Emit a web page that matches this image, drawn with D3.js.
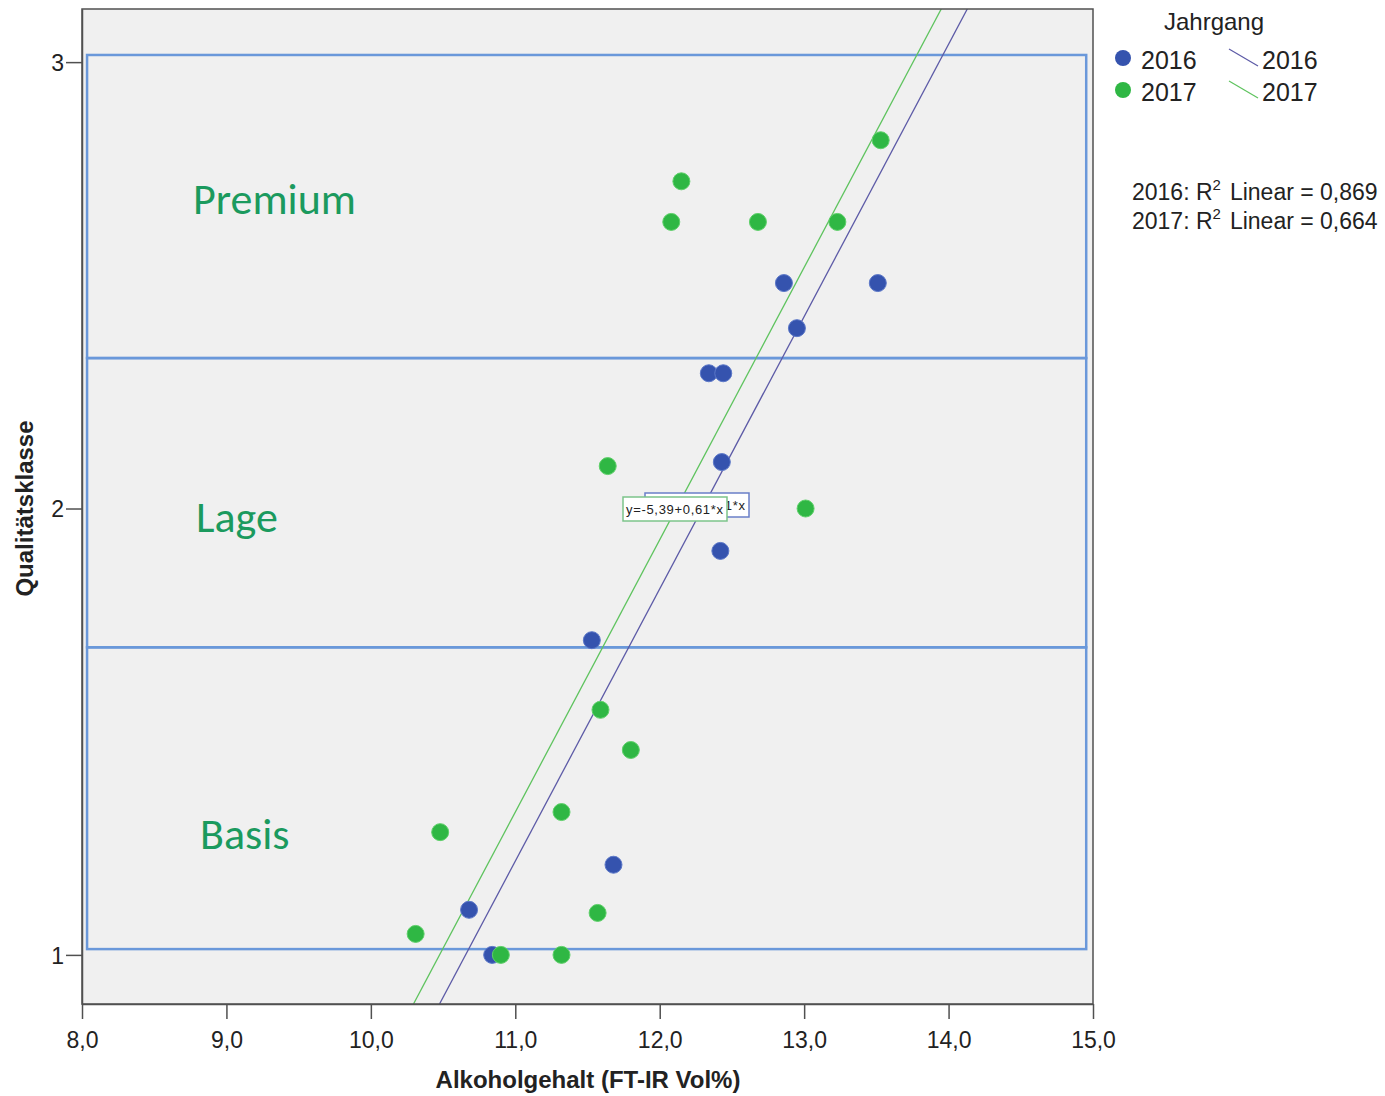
<!DOCTYPE html>
<html>
<head>
<meta charset="utf-8">
<script src="https://cdn.jsdelivr.net/npm/d3@7"></script>
<style>
body { margin: 0; background: #fff; }
text { font-family: "Liberation Sans", Arial, sans-serif; }
</style>
</head>
<body>
<div id="chart"></div>
<script>
// data
var years = ["2016", "2017"];
var alc2016 = [12.86, 13.51, 12.95, 12.34, 12.44, 12.43, 12.42, 11.53, 11.68, 10.68, 10.84];
var qual2016 = [2.505, 2.505, 2.404, 2.303, 2.303, 2.104, 1.905, 1.705, 1.202, 1.101, 1.0];
var alc2017 = [13.53, 12.15, 12.08, 12.68, 13.23, 11.64, 13.01, 11.59, 11.80, 11.32, 10.48, 11.57, 10.31, 10.90, 11.32];
var qual2017 = [2.825, 2.733, 2.642, 2.642, 2.642, 2.095, 2.0, 1.549, 1.459, 1.32, 1.275, 1.094, 1.047, 1.0, 1.0];
var intercepts = [-5.50, -5.39];
var slopes = [0.61, 0.61];
var r2 = ["0,869", "0,664"];
var bandNames = ["Premium", "Lage", "Basis"];
var bandLow = [2.337, 1.689, 1.013];
var bandHigh = [3.016, 2.337, 1.689];
var xTicks = [8, 9, 10, 11, 12, 13, 14, 15];
var yTicks = [1, 2, 3];

var pointColor = ["#3553ae", "#2fb744"];
var lineColor = ["#5c5aa6", "#5ec35e"];

var W = 1385, H = 1096;
var margin = {top: 9, left: 82, right: 292, bottom: 92};
var width = W - margin.left - margin.right;
var height = H - margin.top - margin.bottom;

var svg = d3.select("#chart").append("svg")
  .attr("width", W).attr("height", H);

var x = d3.scaleLinear().domain([8, 15]).range([0, width]);
var y = d3.scaleLinear().domain([0.89, 3.119]).range([height, 0]);

var g = svg.append("g").attr("transform", "translate(" + margin.left + "," + margin.top + ")");

g.append("rect").attr("width", width).attr("height", height).attr("fill", "#f0f0f0");

g.append("defs").append("clipPath").attr("id", "clip")
  .append("rect").attr("width", width).attr("height", height);

// quality bands
g.append("g").selectAll("rect")
  .data(bandNames)
  .enter().append("rect")
  .attr("x", x(8.035))
  .attr("width", x(14.953) - x(8.035))
  .attr("y", function(d, i) { return y(bandHigh[i]); })
  .attr("height", function(d, i) { return y(bandLow[i]) - y(bandHigh[i]); })
  .attr("fill", "none")
  .attr("stroke", "#6a98da")
  .attr("stroke-width", 2.5);

var bandLabelX = [111, 114, 118];
var bandLabelY = [214, 532, 849];
g.append("g").selectAll("text")
  .data(bandNames)
  .enter().append("text")
  .attr("x", function(d, i) { return bandLabelX[i]; })
  .attr("y", function(d, i) { return bandLabelY[i] - margin.top; })
  .text(function(d) { return d; })
  .style("font-family", "Carlito, Lato, 'Open Sans', sans-serif")
  .style("font-size", "44px")
  .attr("fill", "#1b9a5e");

// regression lines
var lines = g.append("g").attr("clip-path", "url(#clip)");
years.forEach(function(yr, i) {
  var y0 = y.domain()[0], y1 = y.domain()[1];
  lines.append("line")
    .attr("x1", x((y0 - intercepts[i]) / slopes[i]))
    .attr("y1", y(y0))
    .attr("x2", x((y1 - intercepts[i]) / slopes[i]))
    .attr("y2", y(y1))
    .attr("stroke", lineColor[i])
    .attr("stroke-width", 1.3);
});

// points
var series = [[alc2016, qual2016], [alc2017, qual2017]];
series.forEach(function(s, i) {
  g.append("g").selectAll("circle")
    .data(s[0])
    .enter().append("circle")
    .attr("cx", function(d) { return x(d); })
    .attr("cy", function(d, j) { return y(s[1][j]); })
    .attr("r", 8.5)
    .attr("fill", pointColor[i])
    .attr("stroke", i == 0 ? "#5c78c8" : "#5fd06a")
    .attr("stroke-width", 1);
});

// equation labels (2017 box sits on top of the 2016 one, as in the original)
var eqOffset = [[22, -4], [0, 0]];
var eqColor = ["#6a7fc8", "#7cc48a"];
var numFmt = function(v) { return d3.format(".2f")(v).replace(".", ",").replace("\u2212", "-"); };
[0, 1].forEach(function(i) {
  var lx = 541 + eqOffset[i][0], ly = 488 + eqOffset[i][1];
  var lab = g.append("g").attr("transform", "translate(" + lx + "," + ly + ")");
  lab.append("rect").attr("width", 104).attr("height", 24)
    .attr("fill", "#fff").attr("stroke", eqColor[i]).attr("stroke-width", 1.5);
  lab.append("text").attr("x", 3).attr("y", 17)
    .text("y=" + numFmt(intercepts[i]) + "+" + numFmt(slopes[i]) + "*x")
    .style("font-size", "13px").attr("fill", "#222").attr("textLength", 97);
});

// frame
g.append("rect").attr("width", width).attr("height", height)
  .attr("fill", "none").attr("stroke", "#505050").attr("stroke-width", 1.5);

// axes
var xAxis = g.append("g").attr("transform", "translate(0," + height + ")")
  .call(d3.axisBottom(x).tickValues(xTicks).tickSize(15).tickSizeOuter(0)
    .tickFormat(function(d) { return d3.format(".1f")(d).replace(".", ","); }));
xAxis.select(".domain").attr("stroke", "#505050").attr("stroke-width", 1.5);
xAxis.selectAll(".tick line").attr("stroke", "#505050").attr("stroke-width", 1.5);
xAxis.selectAll(".tick text").attr("dy", 0).attr("y", 44).style("font-size", "23px").attr("fill", "#222");

var yAxis = g.append("g")
  .call(d3.axisLeft(y).tickValues(yTicks).tickSize(16).tickSizeOuter(0).tickFormat(d3.format("d")));
yAxis.select(".domain").attr("stroke", "#505050").attr("stroke-width", 1.5);
yAxis.selectAll(".tick line").attr("stroke", "#505050").attr("stroke-width", 1.5);
yAxis.selectAll(".tick text").attr("x", -18).attr("dy", "0.36em").style("font-size", "23px").attr("fill", "#222");

svg.append("text")
  .attr("x", 588).attr("y", 1088)
  .attr("text-anchor", "middle")
  .style("font-size", "24px").style("font-weight", "bold").attr("fill", "#222")
  .text("Alkoholgehalt (FT-IR Vol%)");

svg.append("text")
  .attr("transform", "translate(33," + (margin.top + y(2)) + ")rotate(-90)")
  .attr("text-anchor", "middle")
  .style("font-size", "24px").style("font-weight", "bold").attr("fill", "#222")
  .text("Qualitätsklasse");

// legend
var legend = svg.append("g");
legend.append("text").attr("x", 1214).attr("y", 30).attr("text-anchor", "middle")
  .style("font-size", "24px").attr("fill", "#222").text("Jahrgang");
years.forEach(function(yr, i) {
  var ry = 58 + i * 32;
  legend.append("circle").attr("cx", 1123).attr("cy", ry).attr("r", 8)
    .attr("fill", pointColor[i]);
  legend.append("text").attr("x", 1141).attr("y", ry + 11)
    .style("font-size", "25px").attr("fill", "#222").text(yr);
  legend.append("line").attr("x1", 1229).attr("y1", ry - 9).attr("x2", 1258).attr("y2", ry + 8)
    .attr("stroke", lineColor[i]).attr("stroke-width", 1.2);
  legend.append("text").attr("x", 1262).attr("y", ry + 11)
    .style("font-size", "25px").attr("fill", "#222").text(yr);
});

years.forEach(function(yr, i) {
  var t = legend.append("text").attr("x", 1132).attr("y", 200 + i * 29)
    .style("font-size", "23px").attr("fill", "#222");
  t.append("tspan").text(yr + ": R");
  t.append("tspan").attr("dy", -10).style("font-size", "15px").text("2");
  t.append("tspan").attr("dy", 10).attr("dx", 9).text("Linear = " + r2[i]);
});
</script>
</body>
</html>
